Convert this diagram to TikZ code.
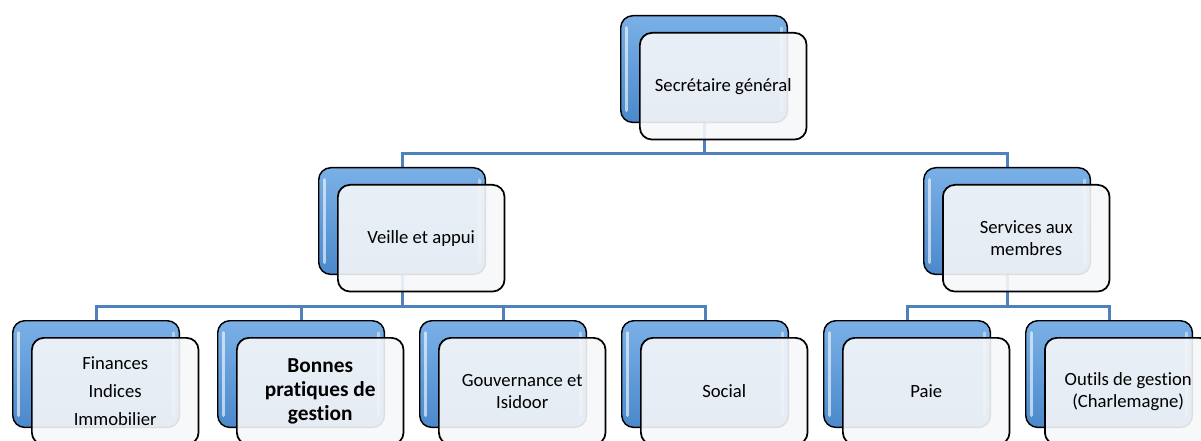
\documentclass[tikz,border=0pt]{standalone}
\usepackage{fontspec}
\setmainfont[Ligatures={TeX,NoCommon}]{Carlito}
\usetikzlibrary{backgrounds}

\definecolor{linkblue}{HTML}{4F81BD}
\definecolor{backtop}{HTML}{7AB0E6}
\definecolor{backbot}{HTML}{4B89CC}
\definecolor{frontfill}{HTML}{F6F7F9}

\begin{document}
\begin{tikzpicture}[
		x=0.75pt, y=-0.75pt,
		every node/.style={inner sep=0pt, anchor=north west},
		link/.style={draw=linkblue, line width=2.3pt},
		backbox/.style={draw=black, line width=1.1pt, rounded corners=9pt,
			top color=backtop, bottom color=backbot,
			minimum width=125pt, minimum height=80pt,
			path picture={
				\draw[white, opacity=0.6, line width=2.5pt, line cap=round]
					([shift={(6,12)}]path picture bounding box.north west) --
					([shift={(6,-12)}]path picture bounding box.south west);
				\draw[white, opacity=0.45, line width=2pt, line cap=round]
					([shift={(-6,12)}]path picture bounding box.north east) --
					([shift={(-6,-12)}]path picture bounding box.south east);
			}},
		frontbox/.style={draw=black, line width=1.3pt, rounded corners=9pt,
			fill=frontfill, fill opacity=0.9, text opacity=1,
			minimum width=125pt, minimum height=80pt, align=center,
			font=\fontsize{14}{16.5}\selectfont},
		front shift/.style={shift={(19,17)}}
		]

	\useasboundingbox (0,0) rectangle (1201,441);
	\clip (0,0) rectangle (1201,441);

	% Secretaire general
	\node[backbox] (sgB) at (620,15) {};
	\node[frontbox] (sgF) at ([front shift]sgB.north west) {Secrétaire général};

	% Veille et appui
	\node[backbox] (vaB) at (318,167) {};
	\node[frontbox] (vaF) at ([front shift]vaB.north west) {Veille et appui};

	% Services aux membres
	\node[backbox] (smB) at (923,167) {};
	\node[frontbox] (smF) at ([front shift]smB.north west) {Services aux\\membres};

	% Bottom row
	\node[backbox] (fiB) at (12,320) {};
	\node[frontbox, font=\fontsize{14}{21}\selectfont] (fiF) at ([front shift]fiB.north west) {Finances\\Indices\\Immobilier};

	\node[backbox] (bpB) at (217,320) {};
	\node[frontbox, font=\fontsize{16}{18}\selectfont\bfseries] (bpF) at ([front shift]bpB.north west) {Bonnes\\pratiques de\\gestion};

	\node[backbox] (goB) at (419,320) {};
	\node[frontbox] (goF) at ([front shift]goB.north west) {Gouvernance et\\Isidoor};

	\node[backbox] (soB) at (621,320) {};
	\node[frontbox] (soF) at ([front shift]soB.north west) {Social};

	\node[backbox] (paB) at (823,320) {};
	\node[frontbox] (paF) at ([front shift]paB.north west) {Paie};

	\node[backbox] (ouB) at (1025,320) {};
	\node[frontbox] (ouF) at ([front shift]ouB.north west) {Outils de gestion\\(Charlemagne)};

	% Connectors
	\begin{scope}[on background layer]
		\foreach \child in {vaB, smB}{
			\draw[link] (sgB.south) -- ++(0,30) -| (\child.north);
		}
		\foreach \child in {fiB, bpB, goB, soB}{
			\draw[link] (vaB.south) -- ++(0,31) -| (\child.north);
		}
		\foreach \child in {paB, ouB}{
			\draw[link] (smB.south) -- ++(0,31) -| (\child.north);
		}
	\end{scope}

\end{tikzpicture}
\end{document}
